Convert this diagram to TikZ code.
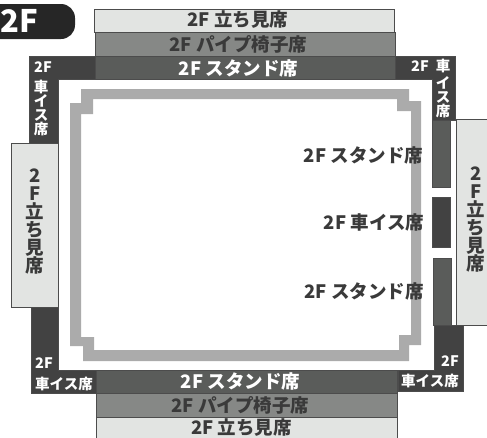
\documentclass[tikz,border=0pt]{standalone}
\usepackage{fontspec}
\setmainfont{Noto Sans CJK JP}
\usepackage{tikz}
\definecolor{standinggray}{HTML}{E2E4E2}
\definecolor{pipegray}{HTML}{868886}
\definecolor{standgray}{HTML}{5A5C5A}
\definecolor{wheelgray}{HTML}{424242}
\definecolor{ringgray}{HTML}{ABABAB}
\definecolor{inktext}{HTML}{3A3A3A}
\newcommand{\tightlines}{\lineskiplimit=-20pt\relax}
\tikzstyle{zone}=[draw=black!70, line width=0.6pt, inner sep=0pt]
\tikzstyle{standing}=[zone, fill=standinggray]
\tikzstyle{pipe}=[zone, fill=pipegray]
\tikzstyle{stand}=[zone, fill=standgray]
\tikzstyle{wheel}=[zone, fill=wheelgray]
\tikzstyle{zonelabel}=[inner sep=0pt, align=center, font=\bfseries\fontsize{18.5}{18}\selectfont\tightlines]
\tikzstyle{darklabel}=[zonelabel, text=inktext]
\tikzstyle{lightlabel}=[zonelabel, text=white]
\tikzstyle{wheellabel}=[inner sep=0pt, text=white, align=center, font=\bfseries\fontsize{14.5}{14}\selectfont\tightlines]

\begin{document}
\begin{tikzpicture}[x=1pt, y=-1pt]
        \useasboundingbox (0, 0) rectangle (487, 437);
        \clip (0, 0) rectangle (487, 437);
        % floor badge
        \fill[black!85, rounded corners=14pt] (-20, 4) rectangle (75, 39);
        \node[text=white, inner sep=0pt, anchor=west, font=\bfseries\fontsize{31}{31}\selectfont] (badge) at (0.5, 21) {2F};
        % top block
        \node[standing, minimum width=300pt, minimum height=23pt] (topstanding) at (244.5, 20.5) {};
        \node[pipe, minimum width=300pt, minimum height=24pt] (toppipe) at (245, 44) {};
        % wheelchair corners
        \draw[wheel] (29, 56) -- (95, 56) -- (95, 79) -- (58, 79) -- (58, 143) -- (29, 143) -- cycle;
        \draw[wheel] (395, 56) -- (455, 56) -- (455, 120) -- (432, 120) -- (432, 79) -- (395, 79) -- cycle;
        \draw[wheel] (31, 307) -- (58, 307) -- (58, 370) -- (96, 370) -- (96, 393) -- (31, 393) -- cycle;
        \draw[wheel] (434, 325) -- (463, 325) -- (463, 391) -- (398, 391) -- (398, 370) -- (434, 370) -- cycle;
        \node[stand, minimum width=300pt, minimum height=23pt] (topstand) at (245, 67.5) {};
        % left block
        \node[standing, minimum width=47pt, minimum height=164pt] (leftstanding) at (34.5, 225) {};
        % right block
        \node[standing, minimum width=47pt, minimum height=206pt] (rightstanding) at (479.5, 222) {};
        \node[stand, minimum width=18pt, minimum height=67pt] (rightstandA) at (441, 153.5) {};
        \node[wheel, minimum width=18pt, minimum height=50pt] (rightwheel) at (441, 222) {};
        \node[stand, minimum width=18pt, minimum height=67pt] (rightstandB) at (442, 291.5) {};
        % bottom block
        \node[stand, minimum width=301pt, minimum height=23pt] (bottomstand) at (247, 381.5) {};
        \node[pipe, minimum width=301pt, minimum height=24pt] (bottompipe) at (247, 405) {};
        \node[standing, minimum width=301pt, minimum height=24pt] (bottomstanding) at (247, 429) {};
        % arena ring
        \fill[ringgray, even odd rule] (81, 89) -- (409, 89) -- (409, 101) -- (421, 101) -- (421, 345) -- (409, 345) -- (409, 361) -- (83, 361) -- (83, 346) -- (70, 346) -- (70, 103) -- (81, 103) -- cycle
            (93, 99) -- (397, 99) -- (397, 111) -- (411, 111) -- (411, 335) -- (399, 335) -- (399, 350) -- (94, 350) -- (94, 337) -- (81, 337) -- (81, 114) -- (93, 114) -- cycle;
        % block labels
        \node[darklabel] (topstandingtext) at (238, 20) {2F 立ち見席};
        \node[darklabel] (toppipetext) at (238.5, 44) {2F パイプ椅子席};
        \node[lightlabel] (topstandtext) at (238.5, 68) {2F スタンド席};
        \node[lightlabel] (bottomstandtext) at (240.5, 381) {2F スタンド席};
        \node[darklabel] (bottompipetext) at (240.5, 405) {2F パイプ椅子席};
        \node[darklabel] (bottomstandingtext) at (241.5, 428) {2F 立ち見席};
        \node[darklabel] (leftstandingtext) at (35, 222) {2\\F\\立\\ち\\見\\席};
        \node[darklabel] (rightstandingtext) at (476, 220) {2\\F\\立\\ち\\見\\席};
        % wheelchair labels
        \node[wheellabel] (wheelTLtop) at (43, 67) {2F};
        \node[wheellabel] (wheelTL) at (41, 108) {車\\イ\\ス\\席};
        \node[wheellabel] (wheelTRtop) at (420, 66) {2F};
        \node[wheellabel] (wheelTRcar) at (443, 66) {車};
        \node[wheellabel] (wheelTR) at (443, 97) {イ\\ス\\席};
        \node[wheellabel] (wheelBLtop) at (44, 363) {2F};
        \node[wheellabel] (wheelBL) at (64, 384) {車イス席};
        \node[wheellabel] (wheelBRtop) at (450, 361) {2F};
        \node[wheellabel] (wheelBR) at (430, 381) {車イス席};
        % labels inside the floor
        \node[darklabel] (innerstandA) at (363.5, 155) {2F スタンド席};
        \node[darklabel] (innerwheel) at (374, 222) {2F 車イス席};
        \node[darklabel] (innerstandB) at (364, 291) {2F スタンド席};
    \end{tikzpicture}
\end{document}
